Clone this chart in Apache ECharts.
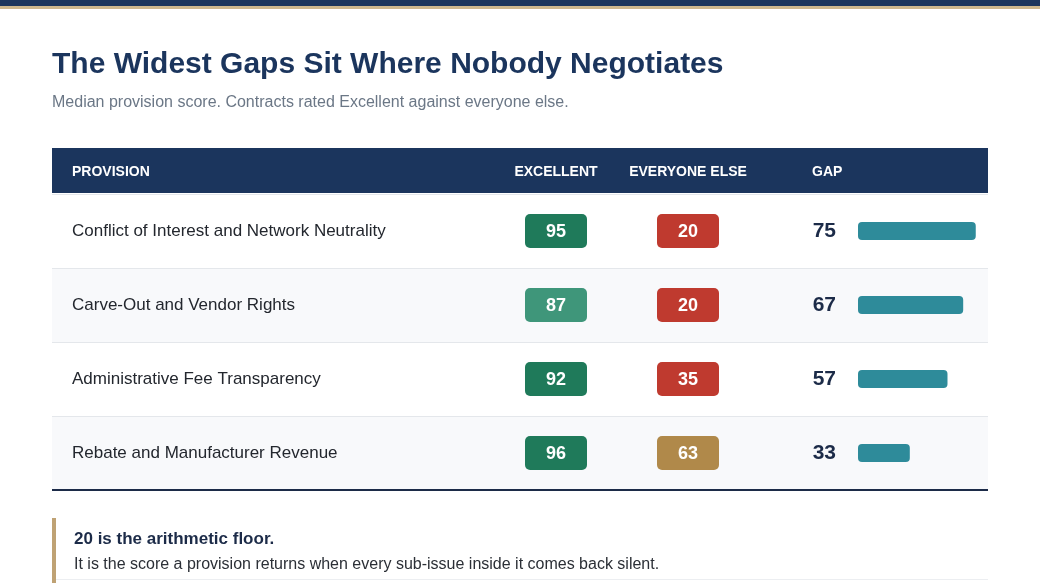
<!DOCTYPE html>
<html>
<head>
<meta charset="utf-8">
<script src="https://cdn.jsdelivr.net/npm/echarts@6/dist/echarts.min.js"></script>
<style>
  html, body { margin: 0; padding: 0; background: #fff; }
  #container { width: 1040px; height: 583px; }
</style>
</head>
<body>
<div id="container"></div>
<script>
var provisions = [
  'Conflict of Interest and Network Neutrality',
  'Carve-Out and Vendor Rights',
  'Administrative Fee Transparency',
  'Rebate and Manufacturer Revenue'
]
var columns = ['EXCELLENT', 'EVERYONE ELSE']
var excellent = [95, 87, 92, 96]
var everyoneElse = [20, 20, 35, 63]
var gap = [75, 67, 57, 33]

;(function() {
  var FONT = '"Liberation Sans", Arial, sans-serif'
  var NAVY = '#1b355d'
  var dom = document.getElementById('container')
  var myChart = echarts.init(dom)

  function pillColor(v) {
    if (v >= 90) return '#1f7a5a'
    if (v >= 75) return '#3f967a'
    if (v >= 50) return '#b0894a'
    return '#bf3a2f'
  }

  var pills = []
  for (var i = 0; i < provisions.length; i++) {
    pills.push([0, i, excellent[i]])
    pills.push([1, i, everyoneElse[i]])
  }

  var tableTop = 194
  var tableH = 296

  var option = {
    animation: false,
    title: [
      {
        text: 'The Widest Gaps Sit Where Nobody Negotiates',
        left: 52, top: 50, padding: 0,
        textStyle: { fontFamily: FONT, fontSize: 30, fontWeight: 'bold', color: NAVY }
      },
      {
        text: 'Median provision score. Contracts rated Excellent against everyone else.',
        left: 52, top: 95, padding: 0,
        textStyle: { fontFamily: FONT, fontSize: 16, fontWeight: 'normal', color: '#6b7786' }
      }
    ],
    grid: [
      { left: 52, right: 52, top: tableTop, height: tableH },
      { left: 490, width: 264, top: tableTop, height: tableH },
      { left: 858, width: 157, top: tableTop, height: tableH }
    ],
    xAxis: [
      { gridIndex: 0, type: 'value', show: false },
      {
        gridIndex: 1, type: 'category', data: columns, position: 'top',
        axisLine: { show: false }, axisTick: { show: false },
        axisLabel: { interval: 0, margin: 15, fontFamily: FONT, fontSize: 14, fontWeight: 'bold', color: '#ffffff' }
      },
      { gridIndex: 2, type: 'value', min: 0, max: 100, show: false }
    ],
    yAxis: [
      {
        gridIndex: 0, type: 'category', data: provisions, inverse: true,
        axisLine: { show: false }, axisTick: { show: false },
        axisLabel: { inside: true, margin: 20, fontFamily: FONT, fontSize: 17, color: '#23272e' },
        splitLine: { show: true, interval: 0, lineStyle: { color: '#e4e7eb', width: 1 } },
        splitArea: { show: true, interval: 0, areaStyle: { color: ['#ffffff', '#f8f9fb'] } }
      },
      { gridIndex: 1, type: 'category', data: provisions, inverse: true, show: false },
      { gridIndex: 2, type: 'category', data: provisions, inverse: true, show: false }
    ],
    series: [
      {
        type: 'custom',
        xAxisIndex: 1, yAxisIndex: 1,
        data: pills,
        encode: { x: 0, y: 1 },
        z: 5,
        renderItem: function(params, api) {
          var p = api.coord([api.value(0), api.value(1)])
          var v = api.value(2)
          return {
            type: 'group',
            children: [
              {
                type: 'rect',
                shape: { x: p[0] - 31, y: p[1] - 17, width: 62, height: 34, r: 5 },
                style: { fill: pillColor(v) }
              },
              {
                type: 'text',
                style: {
                  text: String(v), x: p[0], y: p[1] + 1,
                  align: 'center', verticalAlign: 'middle',
                  fill: '#ffffff', font: 'bold 18px ' + FONT
                }
              }
            ]
          }
        }
      },
      {
        type: 'bar',
        xAxisIndex: 2, yAxisIndex: 2,
        data: gap,
        barWidth: 18,
        z: 5,
        itemStyle: { color: '#2e8b9a', borderRadius: 4 },
        label: {
          show: true, position: 'left', distance: 22,
          fontFamily: FONT, fontSize: 21, fontWeight: 'bold', color: '#1c2b48'
        }
      }
    ],
    graphic: [
      { type: 'rect', z: -5, shape: { x: 0, y: 0, width: 1040, height: 6 }, style: { fill: NAVY } },
      { type: 'rect', z: -5, shape: { x: 0, y: 6, width: 1040, height: 3 }, style: { fill: '#cdb78d' } },
      { type: 'rect', z: -5, shape: { x: 52, y: 148, width: 936, height: 45 }, style: { fill: NAVY } },
      {
        type: 'text', z: 10, left: 72, top: 165,
        style: { text: 'PROVISION', fill: '#ffffff', font: 'bold 14px ' + FONT }
      },
      {
        type: 'text', z: 10, left: 812, top: 165,
        style: { text: 'GAP', fill: '#ffffff', font: 'bold 14px ' + FONT }
      },
      { type: 'rect', z: 10, shape: { x: 52, y: 489, width: 936, height: 2 }, style: { fill: '#1c2b48' } },
      { type: 'rect', z: 10, shape: { x: 52, y: 518, width: 4, height: 65 }, style: { fill: '#bfa274' } },
      {
        type: 'text', z: 10, left: 74, top: 531,
        style: { text: '20 is the arithmetic floor.', fill: '#1c2b48', font: 'bold 17px ' + FONT }
      },
      {
        type: 'text', z: 10, left: 74, top: 557,
        style: { text: 'It is the score a provision returns when every sub-issue inside it comes back silent.', fill: '#2b2f36', font: '16px ' + FONT }
      },
      { type: 'rect', z: 10, shape: { x: 56, y: 579, width: 932, height: 1 }, style: { fill: '#eceef1' } }
    ]
  }

  myChart.setOption(option, true)
})()
</script>
</body>
</html>
